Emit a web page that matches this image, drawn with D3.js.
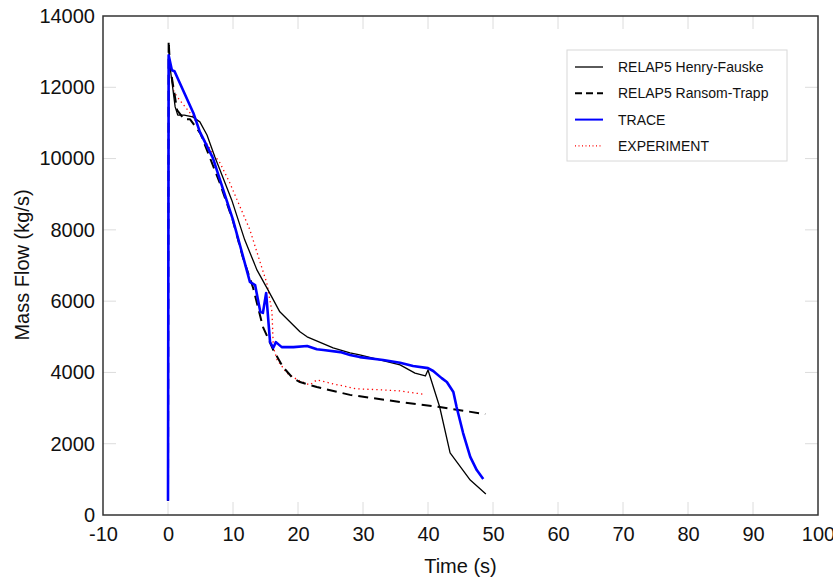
<!DOCTYPE html>
<html><head><meta charset="utf-8">
<script src="https://cdn.jsdelivr.net/npm/d3@7"></script>
<style>body{margin:0;background:#fff;} text{font-family:"Liberation Sans",Arial,sans-serif;}</style>
</head><body><svg id="c" width="833" height="587"></svg>
<script>
const xTicks = [-10,0,10,20,30,40,50,60,70,80,90,100];
const yTicks = [0,2000,4000,6000,8000,10000,12000,14000];
const seriesNames = ["RELAP5 Henry-Fauske","RELAP5 Ransom-Trapp","TRACE","EXPERIMENT"];

const henryT = [0,0.1,0.4,1.1,1.5,2.5,3.8,4.9,6,7.2,9.8,11.8,13.7,15.4,17.2,20.3,21.4,25.4,28,29.5,35.7,38,39.6,40,41.8,43.4,46.5,48.9];
const henryV = [400,12700,12450,11450,11220,11220,11170,11030,10660,10050,8840,7720,6870,6310,5700,5140,5000,4690,4550,4490,4210,3980,3900,4070,3030,1740,980,590];

const ransomT = [0,0.1,0.3,1.4,2.5,3.4,5,8,10,11.5,13.1,14.6,16.2,17.7,19.2,20.3,22.9,28,35.7,41.8,48.8];
const ransomV = [400,13300,12600,11360,11100,11100,10700,9300,8250,7240,6370,5280,4630,4150,3840,3730,3590,3370,3170,3030,2830];

const traceT = [0,0.1,0.6,1,3.9,4.9,6.9,8,10,11.4,12.6,13.4,14.2,14.6,15.1,15.7,16.2,16.6,17.5,19.3,21.4,22.9,23.9,26.5,28,29.5,33.1,35.7,37.7,40,40.8,42.1,42.9,43.9,44.4,45.4,46.5,47.5,48.5];
const traceV = [400,12900,12480,12450,11280,10750,10020,9400,8280,7350,6540,6450,5700,5670,6230,4850,4690,4850,4710,4710,4740,4650,4630,4570,4490,4430,4350,4270,4180,4120,4040,3840,3730,3450,3030,2300,1630,1260,1010];

const expT = [0,0.1,0.6,0.9,1.8,3.9,5.4,6.9,8,9.5,11.1,12.6,14.4,15.2,16,16.2,16.8,18.3,19.5,20.3,21.8,22.9,25.4,29,33.1,35.7,39.2];
const expV = [400,12300,12290,11870,11640,11170,10580,10150,9880,9320,8640,8000,6960,6510,5700,4710,4350,3980,3840,3760,3650,3790,3680,3540,3510,3480,3390];

const svg = d3.select("#c");
const L=103, R=818, T=16, B=515;
const x = d3.scaleLinear().domain([-10,100]).range([L,R]);
const y = d3.scaleLinear().domain([0,14000]).range([B,T]);

// inner light ticks
const g = svg.append("g");
xTicks.slice(1,-1).forEach(v=>{
  g.append("line").attr("x1",x(v)).attr("x2",x(v)).attr("y1",B).attr("y2",B-13).attr("stroke","#dcdcdc").attr("stroke-width",1);
  g.append("line").attr("x1",x(v)).attr("x2",x(v)).attr("y1",T).attr("y2",T+13).attr("stroke","#dcdcdc").attr("stroke-width",1);
});
yTicks.slice(1,-1).forEach(v=>{
  g.append("line").attr("x1",L).attr("x2",L+13).attr("y1",y(v)).attr("y2",y(v)).attr("stroke","#dcdcdc").attr("stroke-width",1);
  g.append("line").attr("x1",R).attr("x2",R-13).attr("y1",y(v)).attr("y2",y(v)).attr("stroke","#dcdcdc").attr("stroke-width",1);
});

const xAxis = svg.append("g").attr("transform",`translate(0,${B})`)
  .call(d3.axisBottom(x).tickValues(xTicks).tickSize(0).tickPadding(12).tickFormat(d=>String(d)));
const yAxis = svg.append("g").attr("transform",`translate(${L},0)`)
  .call(d3.axisLeft(y).tickValues(yTicks).tickSize(0).tickPadding(8).tickFormat(d=>String(d)));
[xAxis,yAxis].forEach(a=>{a.select(".domain").remove(); a.selectAll("text").attr("font-size",20).attr("fill","#111").attr("font-family","Liberation Sans, Arial, sans-serif");});

svg.append("rect").attr("x",L).attr("y",T).attr("width",R-L).attr("height",B-T).attr("fill","none").attr("stroke","#333").attr("stroke-width",1.5);

svg.append("text").attr("x",(L+R)/2).attr("y",573).attr("text-anchor","middle").attr("font-size",20).attr("fill","#111").text("Time (s)");
svg.append("text").attr("transform","translate(29,265) rotate(-90)").attr("text-anchor","middle").attr("font-size",20).attr("fill","#111").text("Mass Flow (kg/s)");

const line = d3.line().x(d=>x(d[0])).y(d=>y(d[1]));
const styles = [
  {stroke:"#000", w:1.3, dash:null},
  {stroke:"#000", w:2, dash:"10,6"},
  {stroke:"#0000ff", w:2.6, dash:null},
  {stroke:"#ff0000", w:1.3, dash:"1.3,3.2"}
];
const data = [d3.zip(henryT,henryV), d3.zip(ransomT,ransomV), d3.zip(traceT,traceV), d3.zip(expT,expV)];
const plot = svg.append("g");
[3,1,0,2].forEach(i=>{
  plot.append("path").datum(data[i]).attr("d",line).attr("fill","none")
    .attr("stroke",styles[i].stroke).attr("stroke-width",styles[i].w)
    .attr("stroke-dasharray",styles[i].dash).attr("stroke-linejoin","round");
});

// legend
const lg = svg.append("g");
lg.append("rect").attr("x",567).attr("y",50).attr("width",220).attr("height",111).attr("fill","#fff").attr("stroke","#d8d8d8").attr("stroke-width",1);
seriesNames.forEach((n,i)=>{
  const yy = 67 + i*26.3;
  lg.append("line").attr("x1",575).attr("x2",603).attr("y1",yy).attr("y2",yy)
    .attr("stroke",styles[i].stroke).attr("stroke-width",Math.min(styles[i].w,2))
    .attr("stroke-dasharray",i===1?"7,4":(i===3?"1,2.5":null));
  lg.append("text").attr("x",618).attr("y",yy+5).attr("font-size",14).attr("fill","#111").text(n);
});
</script></body></html>
